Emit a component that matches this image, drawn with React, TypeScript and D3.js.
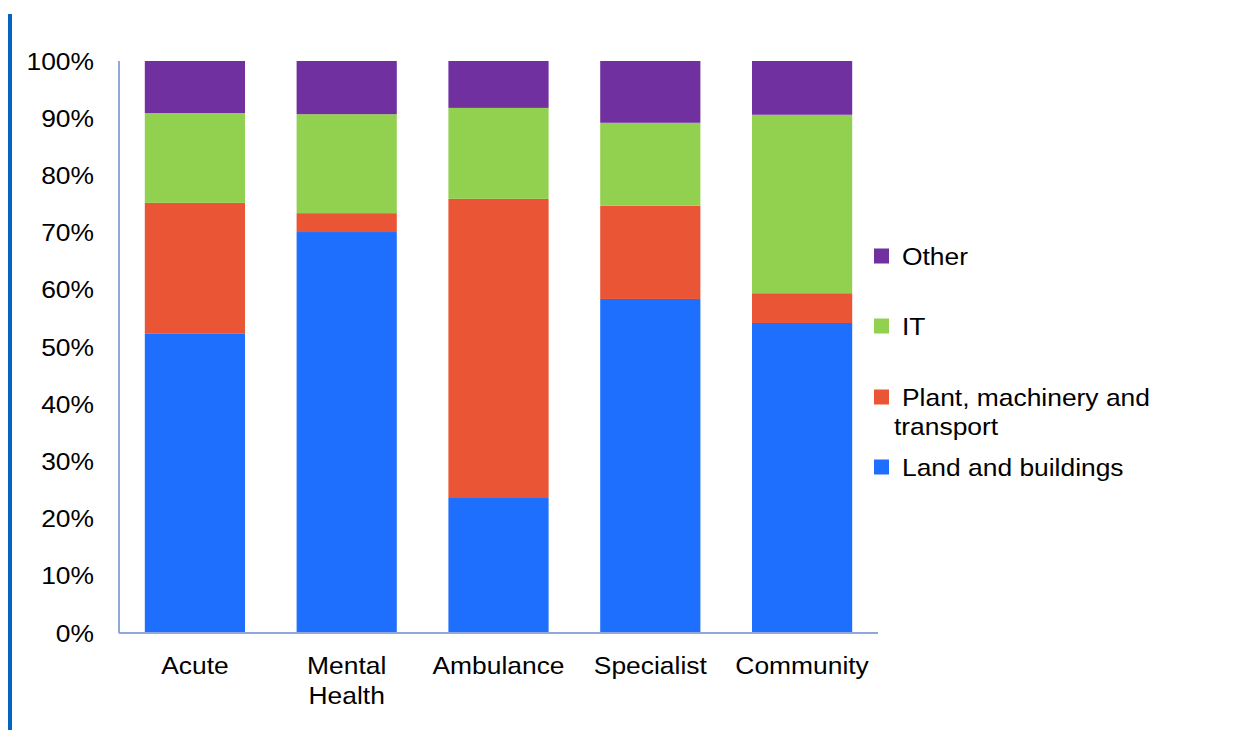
import { useEffect, useRef } from 'react';
import * as d3 from 'd3';

const categories = ['Acute', 'Mental Health', 'Ambulance', 'Specialist', 'Community'];
const seriesNames = ['Land and buildings', 'Plant, machinery and transport', 'IT', 'Other'];
const landBuildings = [52.3, 70.1, 23.6, 58.4, 54.2];
const plantMachinery = [22.9, 3.3, 52.3, 16.3, 5.2];
const itValues = [15.7, 17.3, 15.9, 14.5, 31.2];
const otherValues = [9.1, 9.3, 8.2, 10.8, 9.4];
const yTicks = [0, 10, 20, 30, 40, 50, 60, 70, 80, 90, 100];
const colors = ['#1F6FFF', '#E95535', '#92D050', '#7030A0'];

export default function App() {
  const containerRef = useRef<HTMLDivElement>(null);

  useEffect(() => {
    if (!containerRef.current) return;
    d3.select(containerRef.current).selectAll('*').remove();

    const width = 1254;
    const height = 730;
    const font = 'Liberation Sans, Arial, sans-serif';
    const fontSize = 24;
    const stretch = 1.1;

    const svg = d3
      .select(containerRef.current)
      .append('svg')
      .attr('width', width)
      .attr('height', height)
      .style('display', 'block');

    svg.append('rect').attr('width', width).attr('height', height).attr('fill', 'white');

    // Left accent line
    svg.append('rect').attr('x', 8).attr('y', 14).attr('width', 4).attr('height', height - 14).attr('fill', '#0563C1');

    const x0 = 119;
    const x1 = 878;
    const yTop = 61;
    const yBottom = 633;

    const xScale = d3.scaleBand<string>().domain(categories).range([x0, x1]).paddingInner(0.34).paddingOuter(0.17);
    const yScale = d3.scaleLinear().domain([0, 100]).range([yBottom, yTop]);

    const rows = categories.map((c, i) => ({
      category: c,
      'Land and buildings': landBuildings[i],
      'Plant, machinery and transport': plantMachinery[i],
      IT: itValues[i],
      Other: otherValues[i],
    }));
    const stacked = d3.stack<any>().keys(seriesNames)(rows);

    stacked.forEach((layer, si) => {
      svg
        .append('g')
        .selectAll('rect')
        .data(layer)
        .join('rect')
        .attr('x', (d) => xScale(d.data.category)!)
        .attr('width', xScale.bandwidth())
        .attr('y', (d) => yScale(d[1]))
        .attr('height', (d) => yScale(d[0]) - yScale(d[1]))
        .attr('fill', colors[si]);
    });

    // Axes
    svg.append('line').attr('x1', x0).attr('x2', x0).attr('y1', yTop).attr('y2', yBottom)
      .attr('stroke', '#8FA8DC').attr('stroke-width', 2);
    svg.append('line').attr('x1', x0).attr('x2', x1).attr('y1', yBottom).attr('y2', yBottom)
      .attr('stroke', '#8FA8DC').attr('stroke-width', 2);

    // text helper, slightly widened like the original rendering
    const addText = (x: number, y: number, s: string, anchor: string) =>
      svg.append('text')
        .attr('transform', `translate(${x},${y}) scale(${stretch},1)`)
        .attr('text-anchor', anchor)
        .attr('font-family', font)
        .attr('font-size', fontSize)
        .attr('fill', '#000')
        .text(s);

    yTicks.forEach((d) => addText(94, yScale(d) + 8.5, `${d}%`, 'end'));

    // Category labels
    const catLines: Record<string, string[]> = { 'Mental Health': ['Mental', 'Health'] };
    categories.forEach((c) => {
      const lines = catLines[c] || [c];
      const cx = xScale(c)! + xScale.bandwidth() / 2;
      lines.forEach((l, i) => addText(cx, 674 + i * 30, l, 'middle'));
    });

    // Legend
    const legendItems = [
      { color: colors[3], y: 256, lines: ['Other'] },
      { color: colors[2], y: 326, lines: ['IT'] },
      { color: colors[1], y: 397, lines: ['Plant, machinery and', 'transport'] },
      { color: colors[0], y: 467, lines: ['Land and buildings'] },
    ];
    legendItems.forEach((item) => {
      svg.append('rect').attr('x', 874).attr('y', item.y - 7.5).attr('width', 15).attr('height', 15).attr('fill', item.color);
      item.lines.forEach((l, i) => addText(i === 0 ? 902 : 894, item.y + 8.5 + i * 29, l, 'start'));
    });
  }, []);

  return <div ref={containerRef} style={{ position: 'fixed', left: 0, top: 0 }}></div>;
}
